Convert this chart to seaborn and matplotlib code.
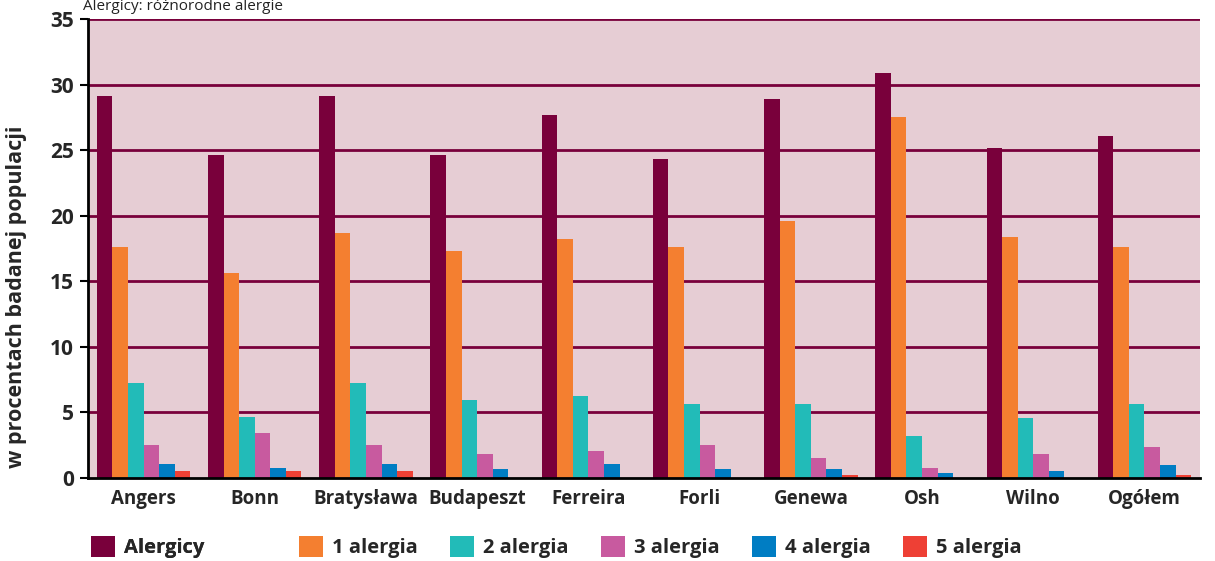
import matplotlib
matplotlib.use("Agg")
import matplotlib.pyplot as plt
from matplotlib.patches import Patch
import seaborn as sns
import pandas as pd

cities = ["Angers", "Bonn", "Bratysława", "Budapeszt", "Ferreira", "Forli",
          "Genewa", "Osh", "Wilno", "Ogółem"]
series = ["Alergicy", "1 alergia", "2 alergia", "3 alergia", "4 alergia", "5 alergia"]
alergicy = [29.1, 24.6, 29.1, 24.6, 27.7, 24.3, 28.9, 30.9, 25.2, 26.1]
a1 = [17.6, 15.6, 18.7, 17.3, 18.2, 17.6, 19.6, 27.5, 18.4, 17.6]
a2 = [7.25, 4.65, 7.25, 5.95, 6.25, 5.65, 5.65, 3.2, 4.6, 5.65]
a3 = [2.5, 3.45, 2.5, 1.85, 2.05, 2.5, 1.55, 0.75, 1.85, 2.35]
a4 = [1.07, 0.76, 1.07, 0.7, 1.07, 0.7, 0.7, 0.38, 0.53, 1.0]
a5 = [0.56, 0.56, 0.56, 0.0, 0.0, 0.0, 0.23, 0.0, 0.0, 0.23]
colors = ["#79003B", "#F47F30", "#22BBB8", "#C85A9F", "#007DC3", "#EE4035"]
yticks = [0, 5, 10, 15, 20, 25, 30, 35]
ylabel = "w procentach badanej populacji"
title = "Alergicy: różnorodne alergie"

rows = []
for s, vals in zip(series, [alergicy, a1, a2, a3, a4, a5]):
    for c, v in zip(cities, vals):
        rows.append({"miasto": c, "seria": s, "wartosc": v})
df = pd.DataFrame(rows)

sns.set_theme(style="white")
plt.rcParams["font.family"] = ["Open Sans", "DejaVu Sans"]

fig = plt.figure(figsize=(12.15, 5.61), dpi=100)
ax = fig.add_axes([0.0724, 0.148, 0.9153, 0.818])
ax.set_facecolor("#E6CDD4")

sns.barplot(data=df, x="miasto", y="wartosc", hue="seria", hue_order=series,
            palette=colors, width=0.84, saturation=1, ax=ax, legend=False,
            edgecolor="none", linewidth=0, zorder=3)

ax.set_ylim(0, 35)
ax.set_xlim(-0.5, len(cities) - 0.5)
ax.set_yticks(yticks)
ax.set_yticklabels([str(t) for t in yticks], fontsize=15, fontweight="bold")
for t in yticks[1:]:
    ax.axhline(t, color="#79003B", lw=2, zorder=2)

ax.set_xticks(range(len(cities)))
ax.set_xticklabels(cities, fontsize=13.5, fontweight="bold")
ax.set_xticks([i - 0.5 for i in range(len(cities) + 1)], minor=True)
ax.tick_params(axis="x", which="major", length=0, pad=8)
ax.tick_params(axis="x", which="minor", length=6, width=1.5, color="black", direction="out")
ax.tick_params(axis="y", which="major", length=6, width=1.5, color="black", direction="out", pad=4)
ax.tick_params(axis="both", bottom=True, left=True)

ax.set_xlabel("")
ax.set_ylabel(ylabel, fontsize=15.5, fontweight="bold")
ax.yaxis.set_label_coords(-0.0545, 0.395)

for side in ["top", "right"]:
    ax.spines[side].set_visible(False)
for side in ["left", "bottom"]:
    ax.spines[side].set_visible(True)
    ax.spines[side].set_color("black")
    ax.spines[side].set_linewidth(2)
    ax.spines[side].set_zorder(4)

fig.text(0.068, 0.988, title, fontsize=11, ha="left", va="center", color="#222222")

handles = [Patch(facecolor=c, edgecolor="none") for c in colors]
prop = {"weight": "bold", "size": 14.5}
leg1 = fig.legend(handles[:1], series[:1], loc="center left", bbox_to_anchor=(0.060, 0.025),
                  frameon=False, ncol=1, handlelength=1.2, handleheight=1.2,
                  handletextpad=0.45, prop=prop)
fig.add_artist(leg1)
fig.legend(handles[1:], series[1:], loc="center left", bbox_to_anchor=(0.231, 0.025),
           frameon=False, ncol=5, handlelength=1.2, handleheight=1.2,
           handletextpad=0.45, columnspacing=1.6, prop=prop)

fig.savefig("out.png", dpi=100)
